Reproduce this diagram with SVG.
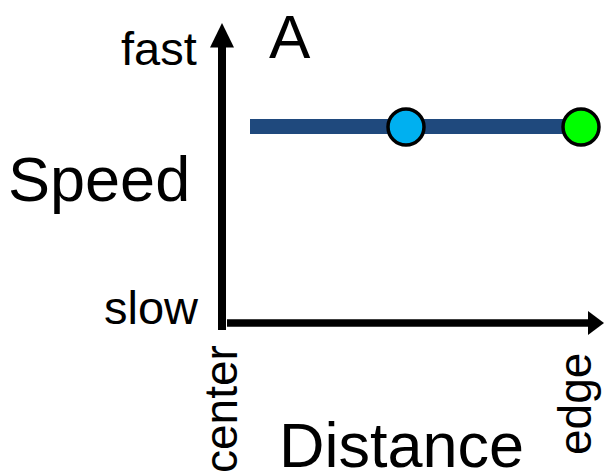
<svg xmlns="http://www.w3.org/2000/svg" width="607" height="475" viewBox="0 0 607 475">
<style>
text{font-family:"Liberation Sans",Arial,sans-serif;fill:#000}
.axis{stroke:#000;stroke-width:8;fill:none}
.dot{stroke:#000;stroke-width:3.5}
</style>
<rect width="607" height="475" fill="#fff"/>
<g id="axes">
<line class="axis" x1="222" y1="330" x2="222" y2="46"/>
<polygon points="222,23 210,47.5 234,47.5" fill="#000"/>
<line x1="227" y1="323" x2="589" y2="323" stroke="#000" stroke-width="7.5"/>
<polygon points="604,323 588,311 588,335" fill="#000"/>
</g>
<g id="speed-line">
<line x1="250" y1="126.5" x2="578" y2="126.5" stroke="#1F497D" stroke-width="15"/>
</g>
<g id="node-blue"><circle class="dot" cx="406" cy="127" r="18" fill="#00B0F0"/></g>
<g id="node-green"><circle class="dot" cx="581" cy="127" r="18" fill="#00FF00"/></g>
<g id="labels">
<text x="121" y="65" font-size="47">fast</text>
<text x="269" y="58" font-size="62">A</text>
<text x="8" y="201" font-size="63">Speed</text>
<text x="104" y="324" font-size="47">slow</text>
<text x="279" y="467" font-size="63">Distance</text>
<text transform="translate(237,473) rotate(-90)" font-size="46">center</text>
<text transform="translate(591,455) rotate(-90)" font-size="46">edge</text>
</g>
</svg>
